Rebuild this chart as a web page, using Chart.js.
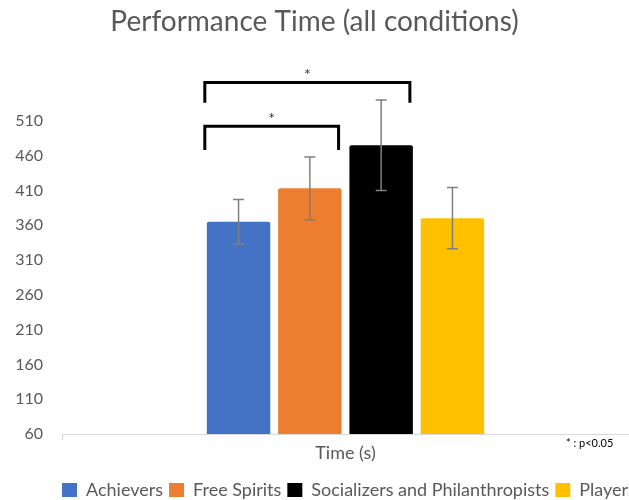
<!DOCTYPE html>
<html>
<head>
<meta charset="utf-8">
<script src="https://cdn.jsdelivr.net/npm/chart.js@4"></script>
<style>
  html, body { margin: 0; padding: 0; background: #fff; }
  #wrap { width: 629px; height: 500px; }
</style>
</head>
<body>
<div id="wrap"><canvas id="perfChart"></canvas></div>
<script>
// values
var categories = ['Time (s)'];
var groups = ['Achievers', 'Free Spirits', 'Socializers and Philanthropists', 'Players'];
var means = [365, 413, 475, 370];
var errors = [32, 45, 65, 44];
var colors = ['#4472C4', '#ED7D31', '#000000', '#FFC000'];
var yTicks = [60, 110, 160, 210, 260, 310, 360, 410, 460, 510];

// significance brackets: [from group, to group, y of bar, y of legs]
var brackets = [
  [0, 1, 502, 468],
  [0, 2, 565, 536]
];

var FONT = 'Lato';
var GREY = '#595959';

var errorBars = {
  id: 'errorBars',
  afterDatasetsDraw: function (chart) {
    var ctx = chart.ctx;
    var y = chart.scales.y;
    ctx.save();
    ctx.strokeStyle = '#7f7f7f';
    ctx.lineWidth = 1.5;
    chart.data.datasets.forEach(function (ds, i) {
      var bar = chart.getDatasetMeta(i).data[0];
      var hi = y.getPixelForValue(means[i] + errors[i]);
      var lo = y.getPixelForValue(means[i] - errors[i]);
      ctx.beginPath();
      ctx.moveTo(bar.x, hi); ctx.lineTo(bar.x, lo);
      ctx.moveTo(bar.x - 5.5, hi); ctx.lineTo(bar.x + 5.5, hi);
      ctx.moveTo(bar.x - 5.5, lo); ctx.lineTo(bar.x + 5.5, lo);
      ctx.stroke();
    });
    ctx.restore();
  }
};

var sigBrackets = {
  id: 'sigBrackets',
  afterDraw: function (chart) {
    var ctx = chart.ctx;
    var y = chart.scales.y;
    ctx.save();
    brackets.forEach(function (b) {
      var a = chart.getDatasetMeta(b[0]).data[0];
      var c = chart.getDatasetMeta(b[1]).data[0];
      var x1 = a.x - a.width / 2 - 2;
      var x2 = c.x + c.width / 2 - 3;
      var top = y.getPixelForValue(b[2]);
      var leg = y.getPixelForValue(b[3]);
      ctx.strokeStyle = '#000';
      ctx.lineWidth = 3;
      ctx.beginPath();
      ctx.moveTo(x1, leg); ctx.lineTo(x1, top); ctx.lineTo(x2, top); ctx.lineTo(x2, leg);
      ctx.stroke();
      ctx.fillStyle = '#333';
      ctx.font = '16px ' + FONT;
      ctx.textAlign = 'center';
      ctx.textBaseline = 'middle';
      ctx.fillText('*', (x1 + x2) / 2, top - 8);
    });
    // note in the corner
    ctx.fillStyle = '#000';
    ctx.font = '11px ' + FONT;
    ctx.textAlign = 'left';
    ctx.textBaseline = 'middle';
    ctx.fillText('* : p<0.05', 566, chart.chartArea.bottom + 9);
    ctx.restore();
  }
};

// start the legend at the left like the original (it runs off the right edge)
var legendShift = {
  id: 'legendShift',
  beforeDraw: function (chart) {
    var lg = chart.legend;
    var d = 56 - lg.left;
    lg.left += d;
    lg.right += d + 100;
  }
};

var ctx = document.getElementById('perfChart').getContext('2d');
new Chart(ctx, {
  type: 'bar',
  data: {
    labels: categories,
    datasets: groups.map(function (g, i) {
      return {
        label: g,
        data: [means[i]],
        backgroundColor: colors[i],
        borderRadius: 2,
        borderSkipped: 'bottom'
      };
    })
  },
  plugins: [errorBars, sigBrackets, legendShift],
  options: {
    responsive: true,
    maintainAspectRatio: false,
    animation: false,
    categoryPercentage: 0.503,
    barPercentage: 0.89,
    layout: { padding: { top: 5, right: 0, bottom: -9, left: 0 } },
    plugins: {
      tooltip: { enabled: false },
      title: {
        display: true,
        text: 'Performance Time (all conditions)',
        color: GREY,
        font: { family: FONT, size: 28, weight: 'normal' },
        padding: { top: 0, bottom: 47.4 }
      },
      legend: {
        display: true,
        position: 'bottom',
        align: 'start',
        labels: {
          color: GREY,
          font: { family: FONT, size: 18 },
          boxWidth: 15,
          boxHeight: 14,
          padding: 6
        }
      }
    },
    scales: {
      x: {
        grid: { display: true, drawOnChartArea: false, color: '#d9d9d9', tickLength: 6 },
        border: { display: true, color: '#d9d9d9' },
        ticks: { color: GREY, font: { family: FONT, size: 18 }, padding: 2 },
        title: { display: true, text: ' ', font: { size: 1 }, padding: { top: 0, bottom: 8.2 } }
      },
      y: {
        min: 60,
        max: 560,
        afterBuildTicks: function (scale) {
          scale.ticks = yTicks.concat([560]).map(function (v) { return { value: v }; });
        },
        afterFit: function (scale) { scale.width = 62; },
        grid: { display: false, drawTicks: false },
        border: { display: false },
        ticks: {
          color: GREY,
          font: { family: FONT, size: 16 },
          padding: 19,
          callback: function (v) { return yTicks.indexOf(v) >= 0 ? v : ''; }
        }
      }
    }
  }
});
</script>
</body>
</html>
